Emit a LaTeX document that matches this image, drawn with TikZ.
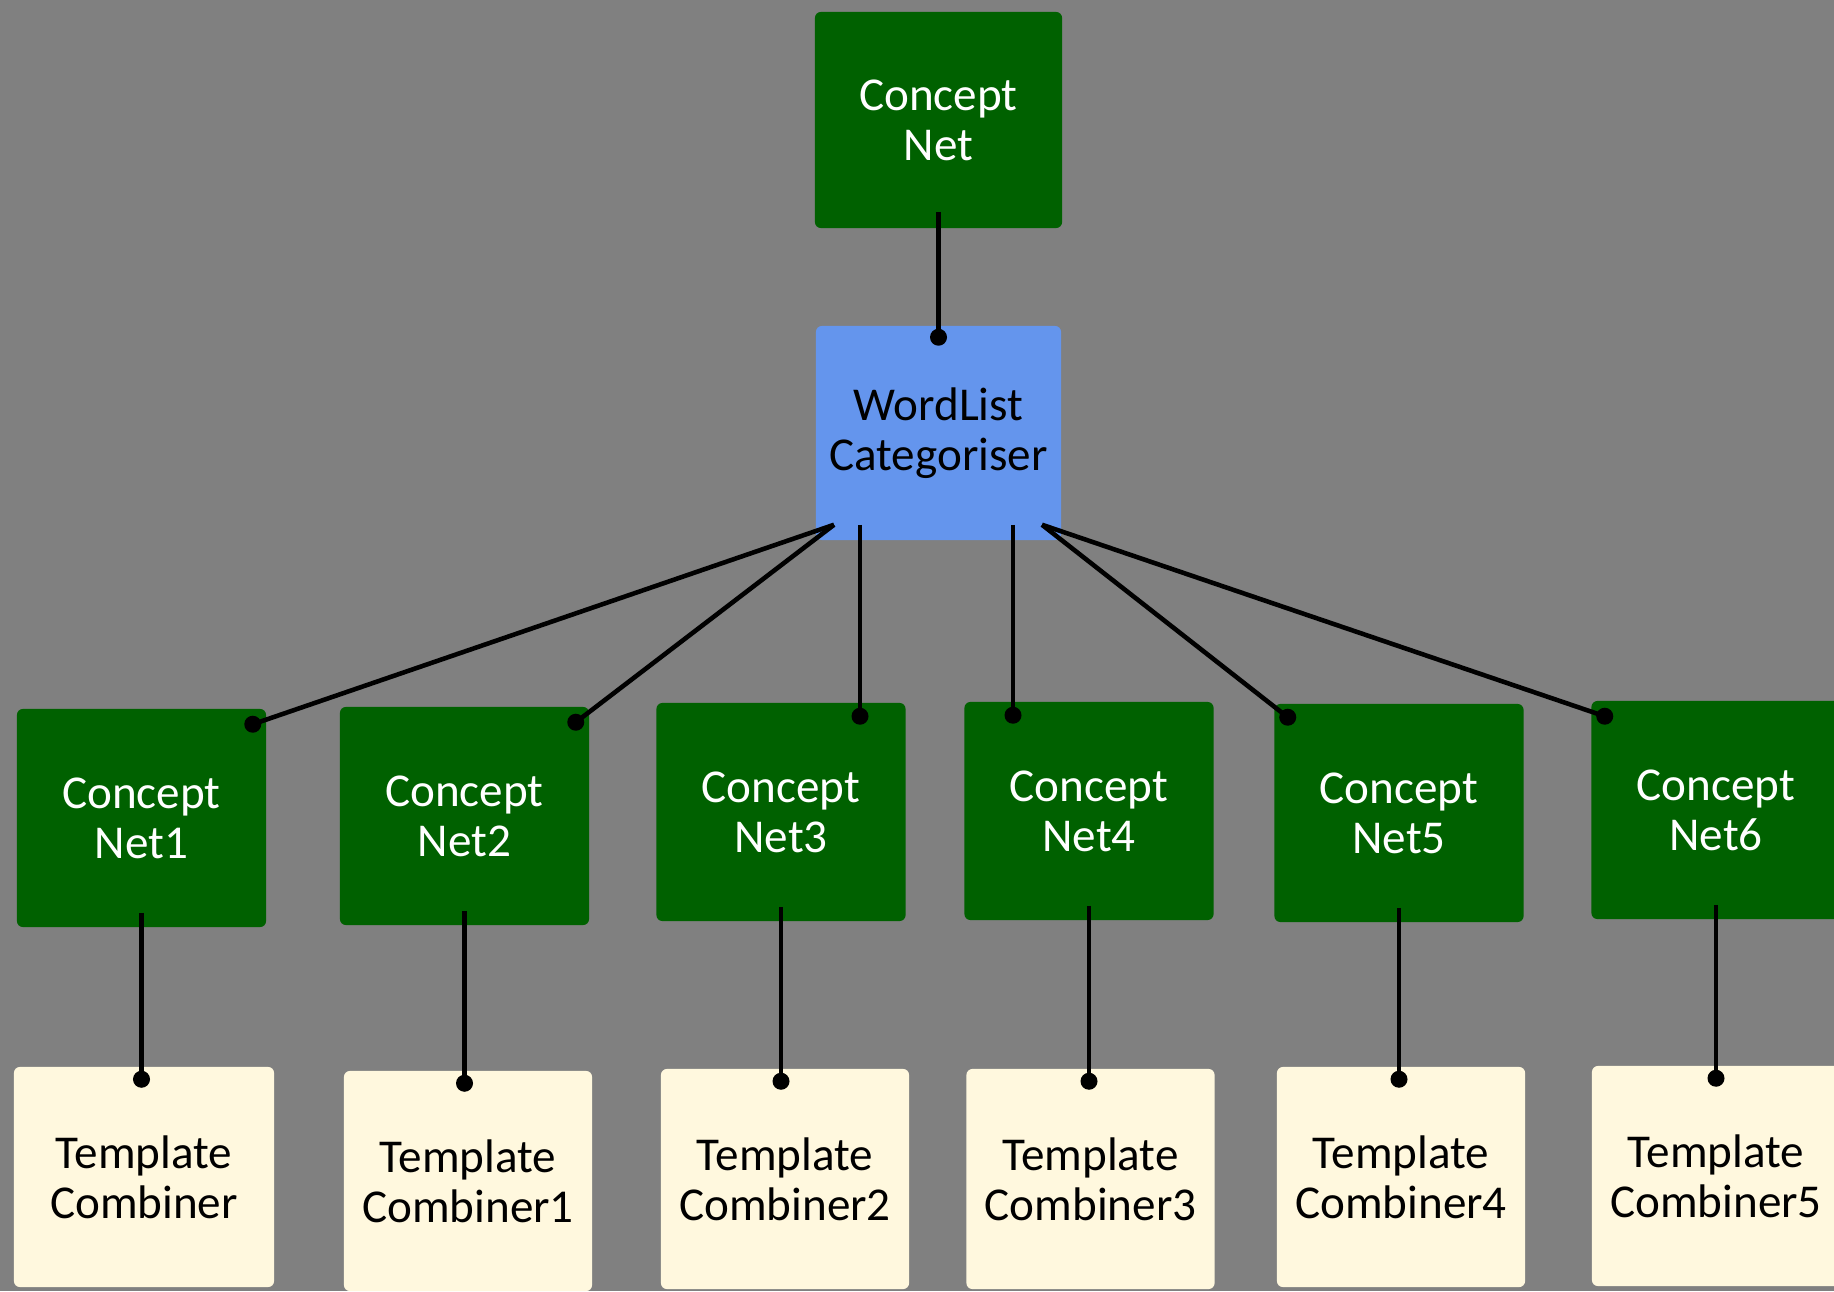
\documentclass[tikz,border=0pt]{standalone}
\usepackage{fontspec}
\setmainfont{Carlito}
\definecolor{bggray}{RGB}{128,128,128}
\definecolor{netgreen}{RGB}{0,97,0}
\definecolor{catblue}{RGB}{100,149,237}
\definecolor{tplcream}{RGB}{255,248,222}
\tikzset{
    box/.style={rectangle, rounded corners=0.06cm, inner sep=0pt, align=center,
        minimum width=2.49cm, minimum height=2.18cm, font=\fontsize{13.4}{14.2}\selectfont},
    net/.style={box, fill=netgreen, text=white},
    cat/.style={box, fill=catblue, text=black},
    tpl/.style={box, fill=tplcream, text=black, minimum height=2.2cm},
    link/.style={line width=1.3pt, black}
}

\begin{document}
\begin{tikzpicture}[x=0.01cm, y=-0.01cm]
            \useasboundingbox (0,0) rectangle (1834,1291);
            \clip (0,0) rectangle (1834,1291);
            \fill[bggray] (0,0) rectangle (1834,1291);
            \node [net, minimum width=2.47cm, minimum height=2.16cm] (CN) at (938.5,120) {Concept\\Net};
            \node [cat, minimum width=2.45cm, minimum height=2.14cm] (WLC) at (938.5,433) {WordList\\Categoriser};
            \foreach \i/\x/\y in {1/141.5/818, 2/464.5/816, 3/781/812, 4/1089/811, 5/1399/813, 6/1716/810}{
                \node [net] (N\i) at (\x,\y) {Concept\\Net\i};
            }
            \node [tpl, minimum width=2.6cm] (T1) at (144,1177) {Template\\Combiner};
            \foreach \i/\x/\y/\s in {2/468/1181/1, 3/785/1179/2, 4/1090.5/1179/3, 5/1401/1177/4, 6/1716/1176/5}{
                \node [tpl, minimum width=2.48cm] (T\i) at (\x,\y) {Template\\Combiner\s};
            }
            \coordinate (dCN) at ([shift={(0,12)}]WLC.north);
            \coordinate (d1) at ([shift={(-14,16)}]N1.north east);
            \coordinate (d2) at ([shift={(-14,16)}]N2.north east);
            \coordinate (d3) at ([shift={(79,14)}]N3.north);
            \coordinate (d4) at ([shift={(-76,14)}]N4.north);
            \coordinate (d5) at ([shift={(14,14)}]N5.north west);
            \coordinate (d6) at ([shift={(14,16)}]N6.north west);
            \draw[link] ([shift={(0,-17)}]CN.south) -- (dCN);
            \foreach \i/\dx in {1/-104.5, 2/-104.5, 3/-78.5, 4/74.5, 5/103.5, 6/103.5}{
                \draw[link] ([shift={(\dx,-16)}]WLC.south) -- (d\i);
                \path (N\i.south |- T\i.north) ++(0,13) coordinate (t\i);
                \draw[link] ([shift={(0,-15)}]N\i.south) -- (t\i);
            }
            \foreach \Point in {(dCN), (d1), (d2), (d3), (d4), (d5), (d6), (t1), (t2), (t3), (t4), (t5), (t6)}{
                \fill \Point circle[radius=0.085cm];
            }
        \end{tikzpicture}
\end{document}
